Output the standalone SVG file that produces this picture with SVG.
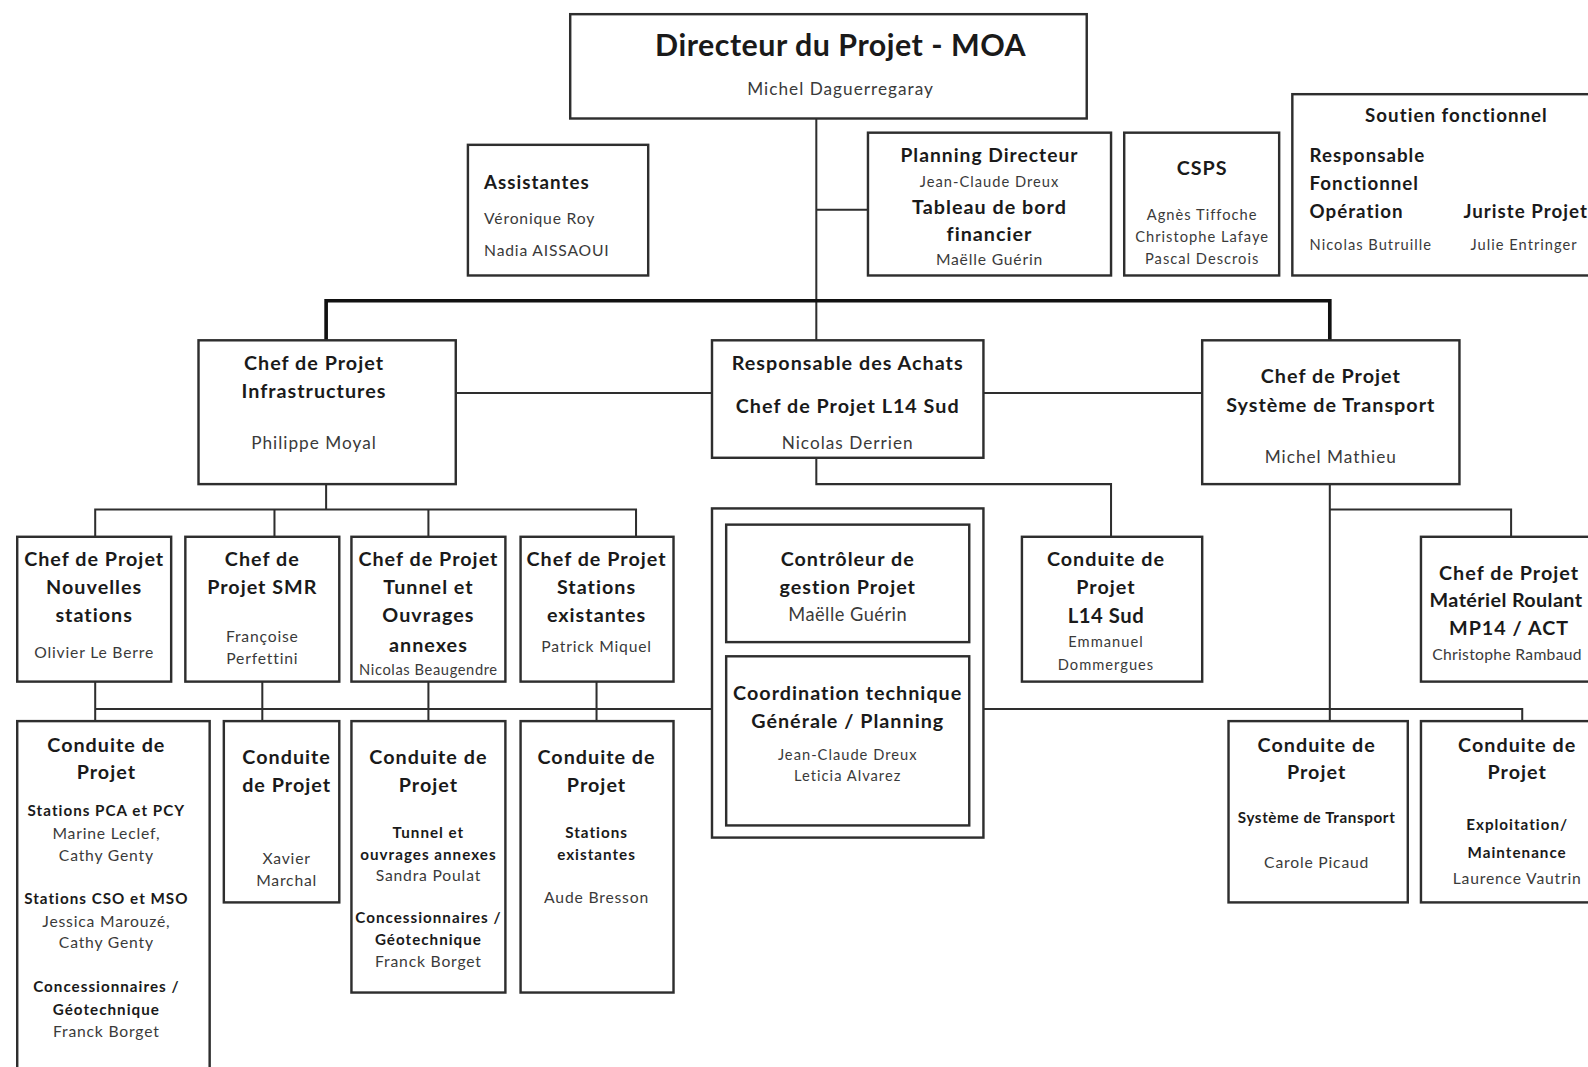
<svg xmlns="http://www.w3.org/2000/svg" width="1588" height="1067" viewBox="0 0 1588 1067">
<style>
.box{fill:#fff;stroke:#2e2e2e;stroke-width:2.4}
.c{stroke:#2e2e2e;stroke-width:2;fill:none}
.bar{stroke:#111;stroke-width:3.6;fill:none}
text{font-family:Lato,"Open Sans","Liberation Sans",sans-serif;dominant-baseline:central;text-anchor:middle}
.b{font-weight:700;fill:#1a1a1a;font-size:19.5px;letter-spacing:1px}
.b17{font-size:18.5px}
.n{font-weight:400;fill:#3a3a3a;font-size:15.5px;letter-spacing:0.8px}
.n15{font-size:17px;letter-spacing:1px}
.n13{font-size:14.5px;letter-spacing:1px}
.s{font-weight:700;fill:#1a1a1a;font-size:15px;letter-spacing:1px}
.l{text-anchor:start}
</style>
<rect width="1588" height="1067" fill="#fff"/>
<g transform="scale(1.0128)">
<g id="connectors">
<path class="c" d="M806 117V336M806 207H857"/>
<path class="bar" d="M322 336V297H1313V336"/>
<path class="c" d="M450 388H703M971 388H1187"/>
<path class="c" d="M322 478V503M94 530V503H628V530M271 503V530M423 503V530"/>
<path class="c" d="M806 452V478H1097V530"/>
<path class="c" d="M1313 478V712M1313 503H1492V530"/>
<path class="c" d="M94 673V712M259 673V712M423 673V712M589 673V712M94 700H703M971 700H1503V712"/>
</g>
<g id="directeur"><rect class="box" x="563" y="14" width="510" height="103"/>
<text class="b" x="830" y="43" style="font-size:30px;letter-spacing:0.5px">Directeur du Projet - MOA</text>
<text class="n n15" x="830" y="87">Michel Daguerregaray</text></g>
<g id="assistantes"><rect class="box" x="462" y="143" width="178" height="129"/>
<text class="b b17 l" x="478" y="180">Assistantes</text>
<text class="n l" x="478" y="215">Véronique Roy</text>
<text class="n l" x="478" y="247">Nadia AISSAOUI</text></g>
<g id="planning"><rect class="box" x="857" y="131" width="240" height="141"/>
<text class="b" x="977" y="153" style="font-size:19px">Planning Directeur</text>
<text class="n n13" x="977" y="179">Jean-Claude Dreux</text>
<text class="b" x="977" y="204">Tableau de bord</text>
<text class="b" x="977" y="231">financier</text>
<text class="n" x="977" y="256">Maëlle Guérin</text></g>
<g id="csps"><rect class="box" x="1110" y="131" width="153" height="141"/>
<text class="b" x="1187" y="165">CSPS</text>
<text class="n n13" x="1187" y="212">Agnès Tiffoche</text>
<text class="n n13" x="1187" y="234">Christophe Lafaye</text>
<text class="n n13" x="1187" y="255">Pascal Descrois</text></g>
<g id="soutien"><rect class="box" x="1276" y="93" width="330" height="179"/>
<text class="b b17" x="1438" y="114">Soutien fonctionnel</text>
<text class="b b17 l" x="1293" y="153">Responsable</text>
<text class="b b17 l" x="1293" y="181">Fonctionnel</text>
<text class="b b17 l" x="1293" y="208">Opération</text>
<text class="n n13 l" x="1293" y="241">Nicolas Butruille</text>
<text class="b b17 l" x="1445" y="208">Juriste Projet</text>
<text class="n n13 l" x="1452" y="241">Julie Entringer</text></g>
<g id="infrastructures"><rect class="box" x="196" y="336" width="254" height="142"/>
<text class="b" x="310" y="358">Chef de Projet</text>
<text class="b" x="310" y="386">Infrastructures</text>
<text class="n n15" x="310" y="437">Philippe Moyal</text></g>
<g id="achats"><rect class="box" x="703" y="336" width="268" height="116"/>
<text class="b" x="837" y="358">Responsable des Achats</text>
<text class="b" x="837" y="400">Chef de Projet L14 Sud</text>
<text class="n n15" x="837" y="437">Nicolas Derrien</text></g>
<g id="systeme-transport"><rect class="box" x="1187" y="336" width="254" height="142"/>
<text class="b" x="1314" y="371">Chef de Projet</text>
<text class="b" x="1314" y="399">Système de Transport</text>
<text class="n n15" x="1314" y="451">Michel Mathieu</text></g>
<g id="nouvelles-stations"><rect class="box" x="17" y="530" width="152" height="143"/>
<text class="b" x="93" y="551">Chef de Projet</text>
<text class="b" x="93" y="579">Nouvelles</text>
<text class="b" x="93" y="607">stations</text>
<text class="n" x="93" y="644">Olivier Le Berre</text></g>
<g id="smr"><rect class="box" x="183" y="530" width="152" height="143"/>
<text class="b" x="259" y="551">Chef de</text>
<text class="b" x="259" y="579">Projet SMR</text>
<text class="n" x="259" y="628">Françoise</text>
<text class="n" x="259" y="650">Perfettini</text></g>
<g id="tunnel"><rect class="box" x="347" y="530" width="152" height="143"/>
<text class="b" x="423" y="551">Chef de Projet</text>
<text class="b" x="423" y="579">Tunnel et</text>
<text class="b" x="423" y="607">Ouvrages</text>
<text class="b" x="423" y="636">annexes</text>
<text class="n n13" x="423" y="661" style="letter-spacing:0.6px">Nicolas Beaugendre</text></g>
<g id="stations-existantes"><rect class="box" x="514" y="530" width="151" height="143"/>
<text class="b" x="589" y="551">Chef de Projet</text>
<text class="b" x="589" y="579">Stations</text>
<text class="b" x="589" y="607">existantes</text>
<text class="n" x="589" y="638">Patrick Miquel</text></g>
<g id="coordination-groupe"><rect class="box" x="703" y="502" width="268" height="325"/>
<g id="controleur"><rect class="box" x="717" y="518" width="240" height="116"/>
<text class="b" x="837" y="551">Contrôleur de</text>
<text class="b" x="837" y="579">gestion Projet</text>
<text class="n" x="837" y="606" style="font-size:18px;letter-spacing:0.5px">Maëlle Guérin</text></g>
<g id="coordination"><rect class="box" x="717" y="648" width="240" height="167"/>
<text class="b" x="837" y="684">Coordination technique</text>
<text class="b" x="837" y="711">Générale / Planning</text>
<text class="n n13" x="837" y="745">Jean-Claude  Dreux</text>
<text class="n n13" x="837" y="766">Leticia Alvarez</text></g></g>
<g id="conduite-l14"><rect class="box" x="1009" y="530" width="178" height="143"/>
<text class="b" x="1092" y="551">Conduite de</text>
<text class="b" x="1092" y="579">Projet</text>
<text class="b" x="1092" y="607" style="font-size:20px;letter-spacing:0.5px">L14 Sud</text>
<text class="n n13" x="1092" y="633">Emmanuel</text>
<text class="n n13" x="1092" y="656">Dommergues</text></g>
<g id="materiel-roulant"><rect class="box" x="1403" y="530" width="200" height="143"/>
<text class="b" x="1490" y="565">Chef de Projet</text>
<text class="b" x="1487" y="592" style="letter-spacing:0.4px">Matériel Roulant</text>
<text class="b" x="1490" y="620">MP14 / ACT</text>
<text class="n" x="1488" y="646" style="letter-spacing:0.3px">Christophe Rambaud</text></g>
<g id="conduite-nouvelles"><rect class="box" x="17" y="712" width="190" height="360"/>
<text class="b" x="105" y="735">Conduite de</text>
<text class="b" x="105" y="762">Projet</text>
<text class="s" x="105" y="800">Stations  PCA et PCY</text>
<text class="n" x="105" y="822">Marine Leclef,</text>
<text class="n" x="105" y="844">Cathy Genty</text>
<text class="s" x="105" y="887">Stations  CSO et MSO</text>
<text class="n" x="105" y="909">Jessica Marouzé,</text>
<text class="n" x="105" y="930">Cathy Genty</text>
<text class="s" x="105" y="974">Concessionnaires /</text>
<text class="s" x="105" y="996">Géotechnique</text>
<text class="n" x="105" y="1018">Franck Borget</text></g>
<g id="conduite-smr"><rect class="box" x="221" y="712" width="114" height="179"/>
<text class="b" x="283" y="747">Conduite</text>
<text class="b" x="283" y="775">de Projet</text>
<text class="n" x="283" y="847">Xavier</text>
<text class="n" x="283" y="869">Marchal</text></g>
<g id="conduite-tunnel"><rect class="box" x="347" y="712" width="152" height="268"/>
<text class="b" x="423" y="747">Conduite de</text>
<text class="b" x="423" y="775">Projet</text>
<text class="s" x="423" y="821">Tunnel et</text>
<text class="s" x="423" y="843">ouvrages annexes</text>
<text class="n" x="423" y="864">Sandra Poulat</text>
<text class="s" x="423" y="905">Concessionnaires /</text>
<text class="s" x="423" y="927">Géotechnique</text>
<text class="n" x="423" y="949">Franck Borget</text></g>
<g id="conduite-existantes"><rect class="box" x="514" y="712" width="151" height="268"/>
<text class="b" x="589" y="747">Conduite de</text>
<text class="b" x="589" y="775">Projet</text>
<text class="s" x="589" y="821">Stations</text>
<text class="s" x="589" y="843">existantes</text>
<text class="n" x="589" y="886">Aude  Bresson</text></g>
<g id="conduite-systeme"><rect class="box" x="1213" y="712" width="177" height="179"/>
<text class="b" x="1300" y="735">Conduite de</text>
<text class="b" x="1300" y="762">Projet</text>
<text class="s" x="1300" y="807" style="letter-spacing:0.6px">Système de Transport</text>
<text class="n" x="1300" y="851">Carole Picaud</text></g>
<g id="conduite-exploitation"><rect class="box" x="1403" y="712" width="200" height="179"/>
<text class="b" x="1498" y="735">Conduite de</text>
<text class="b" x="1498" y="762">Projet</text>
<text class="s" x="1498" y="814">Exploitation/</text>
<text class="s" x="1498" y="841">Maintenance</text>
<text class="n" x="1498" y="867">Laurence Vautrin</text></g>
</g>
</svg>
